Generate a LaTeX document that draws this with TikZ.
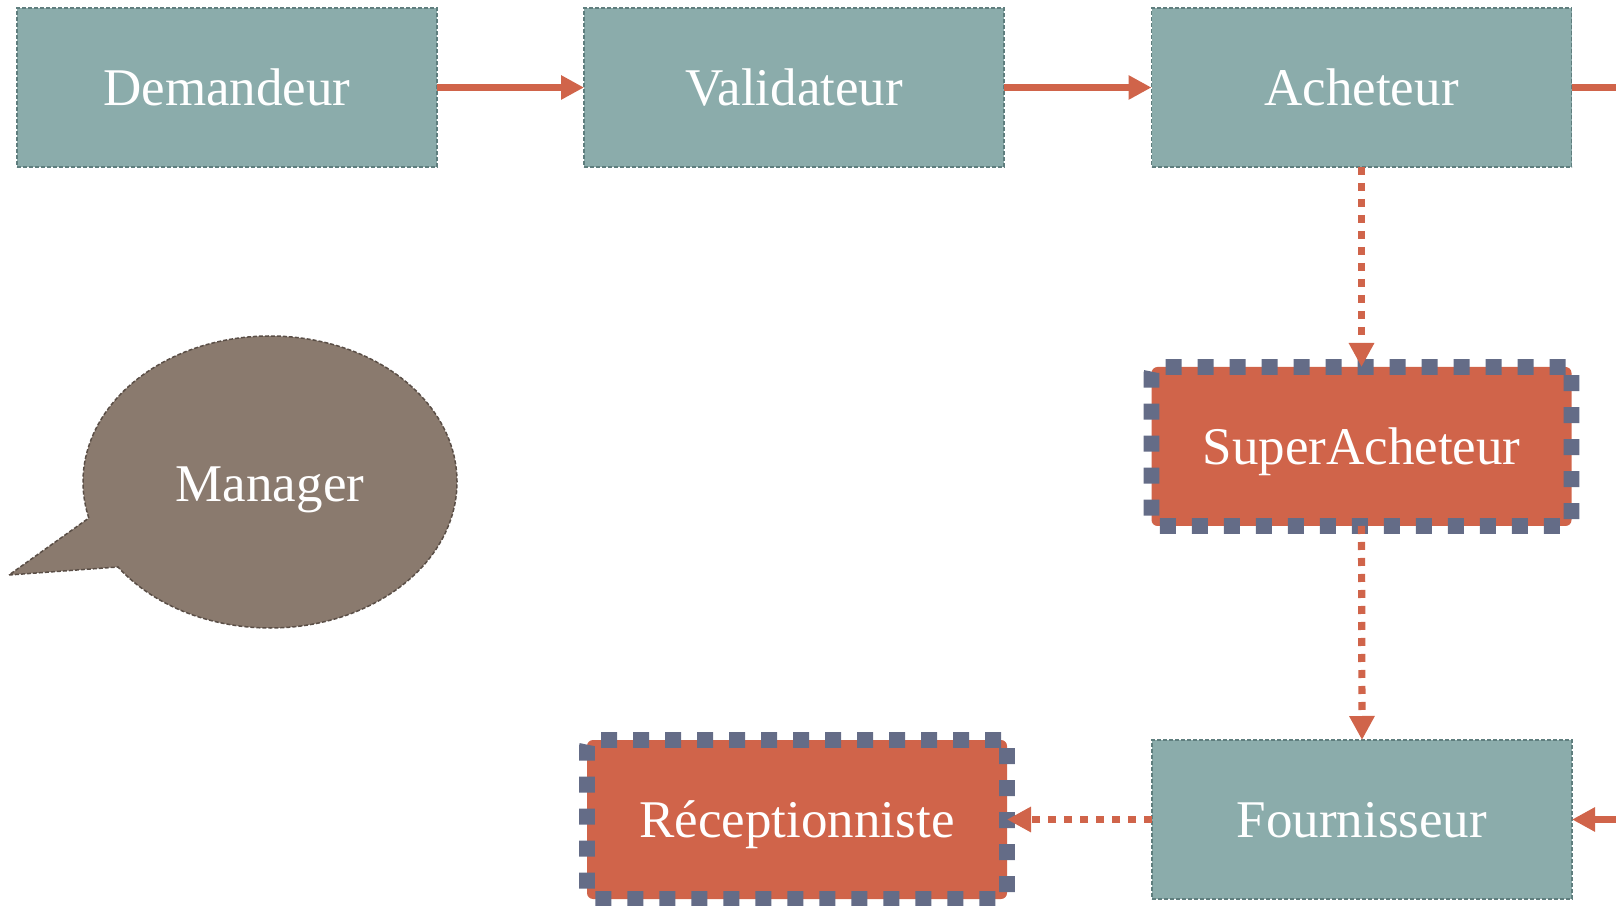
\documentclass[tikz,border=0pt]{standalone}
\usepackage{fontspec}
\setmainfont{Liberation Serif}
\usetikzlibrary{arrows.meta}
\definecolor{tealbox}{HTML}{8BACAB}
\definecolor{tealedge}{HTML}{5F7E7E}
\definecolor{orangec}{HTML}{D0644A}
\definecolor{slatec}{HTML}{646C87}
\definecolor{mgrfill}{HTML}{8A7A6E}
\definecolor{mgredge}{HTML}{5A4E46}
\begin{document}
\begin{tikzpicture}[x=0.5pt,y=0.5pt,
  base/.style={minimum width=210pt,minimum height=79.5pt,inner sep=0pt,outer sep=0pt,text=white,text height=18pt,text depth=0pt,font=\fontsize{26.5pt}{30pt}\selectfont},
  plainbox/.style={base,fill=tealbox,draw=tealedge,line width=0.75pt,dash pattern=on 2pt off 1pt},
  hotbox/.style={base,fill=orangec,draw=slatec,line width=7.8pt,dash pattern=on 8pt off 8pt,rounded corners=3pt},
  flow/.style={draw=orangec,line width=3.5pt,-{Triangle[length=11.5pt,width=11.5pt]}},
  dotflow/.style={draw=orangec,line width=3.6pt,dash pattern=on 4pt off 4pt,-{Triangle[length=12pt,width=12pt]}},
  mgr/.style={fill=mgrfill,draw=mgredge,line width=0.75pt,dash pattern=on 2pt off 1pt},
  mgrtext/.style={inner sep=0pt,text=white,text height=18pt,text depth=0pt,font=\fontsize{26.5pt}{30pt}\selectfont}
]
\useasboundingbox (0,0) rectangle (1616,905);

% callout
\coordinate (mc) at (270,423);
\coordinate (mtip) at (9,330);
\draw[mgr] (mtip) -- ([shift={(215.6:93.5pt and 73pt)}]mc)
  arc[start angle=215.6,end angle=554.3,x radius=93.5pt,y radius=73pt] -- cycle;
\node[mgrtext] (manager) at (270,421) {Manager};

% boxes
\node[plainbox] (dem) at (227,817.5) {Demandeur};
\node[plainbox] (val) at (794,817.5) {Validateur};
\node[plainbox] (ach) at (1361.5,817.5) {Acheteur};
\node[hotbox] (sup) at (1361.5,458.5) {SuperAcheteur};
\node[plainbox] (fou) at (1362,85.5) {Fournisseur};
\node[hotbox] (rec) at (797,85.5) {Réceptionniste};

% connectors
\draw[flow] (dem.east) -- (val.west);
\draw[flow] (val.east) -- (ach.west);
\coordinate (r1) at (1621,817.5);
\coordinate (r2) at (1621,85.5);
\draw[flow] (ach.east) -- (r1) -- (r2) -- (fou.east);
\draw[dotflow] (ach.south) -- (sup.north);
\draw[dotflow] (sup.south) -- (fou.north);
\draw[dotflow] (fou.west) -- (rec.east);
\end{tikzpicture}
\end{document}
